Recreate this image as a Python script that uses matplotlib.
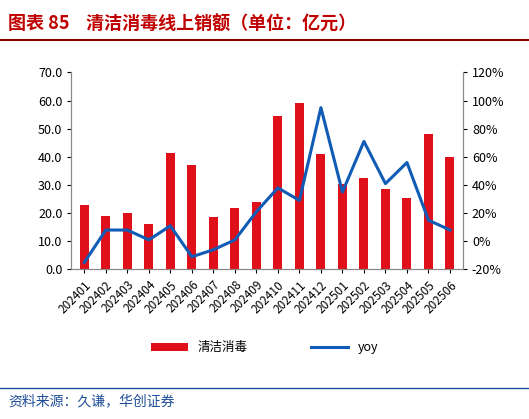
import matplotlib
matplotlib.use("Agg")
import matplotlib.pyplot as plt
from matplotlib.lines import Line2D

plt.rcParams['font.family'] = ['Noto Sans CJK SC', 'DejaVu Sans']

months = ["202401","202402","202403","202404","202405","202406","202407","202408","202409",
          "202410","202411","202412","202501","202502","202503","202504","202505","202506"]
sales = [23, 19, 20, 16, 41.5, 37, 18.5, 22, 24, 54.5, 59, 41, 30.5, 32.5, 28.5, 25.5, 48, 40]
yoy = [-15, 8, 8, 1, 11, -11, -6, 1, 21, 38, 29, 95, 35, 71, 41, 56, 15, 8]

fig = plt.figure(figsize=(5.29, 4.19), dpi=100)
fig.text(0.015, 0.965, "图表 85    清洁消毒线上销额（单位：亿元）", fontsize=13, fontweight='bold',
         color='#c00000', va='top')
fig.add_artist(Line2D([0.0, 1.0], [0.905, 0.905], color='#8b0000', lw=1.5))
fig.add_artist(Line2D([0.0, 1.0], [0.075, 0.075], color='#1f4e99', lw=1))
fig.text(0.015, 0.06, "资料来源：久谦，华创证券", fontsize=10, style='italic', color='#1f4e99', va='top')

ax = fig.add_axes([0.135, 0.357, 0.74, 0.47])
x = range(len(months))
bars = ax.bar(x, sales, width=0.42, color='#e0101b', label='清洁消毒')
ax.set_ylim(0, 70)
ax.set_yticks(range(0, 71, 10))
ax.set_yticklabels([f"{v:.1f}" for v in range(0, 71, 10)], fontsize=9)
ax.set_xlim(-0.6, len(months) - 0.4)
ax.set_xticks(list(x))
ax.set_xticklabels(months, rotation=45, fontsize=8.5, ha='right', rotation_mode='anchor')
ax2 = ax.twinx()
ln, = ax2.plot(x, yoy, color='#0f5bb5', lw=2.2, label='yoy')
ax2.set_ylim(-20, 120)
ax2.set_yticks(range(-20, 121, 20))
ax2.set_yticklabels([f"{v}%" for v in range(-20, 121, 20)], fontsize=9)
for a in (ax, ax2):
    for s in a.spines.values():
        s.set_color('#888888')
    a.spines['top'].set_visible(False)
    a.tick_params(length=3, colors='black')
fig.legend([bars, ln], ['清洁消毒', 'yoy'], loc='center', bbox_to_anchor=(0.5, 0.17),
           ncol=2, frameon=False, fontsize=9, columnspacing=5, handlelength=3)
fig.savefig("out.png", dpi=100)
